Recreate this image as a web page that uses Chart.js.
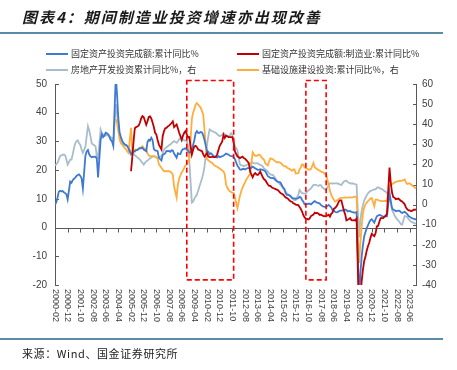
<!DOCTYPE html>
<html><head><meta charset="utf-8">
<script src="https://cdn.jsdelivr.net/npm/chart.js@4.4.0/dist/chart.umd.min.js"></script>
<style>
html,body{margin:0;padding:0;background:#fff;}
body{width:457px;height:370px;position:relative;overflow:hidden;font-family:"Noto Sans CJK SC",sans-serif;}
#title{position:absolute;left:22px;top:7px;font-size:15px;font-weight:bold;font-style:italic;letter-spacing:2px;color:#1a1a1a;white-space:nowrap;line-height:20px;}
.rule{position:absolute;left:0;width:443px;background:#5b8aa6;}
#rule1{top:32px;height:2px;}
#rule2{top:338px;height:2px;}
#source{position:absolute;left:22px;top:345px;font-size:11px;letter-spacing:0.6px;color:#222;line-height:16px;white-space:nowrap;}
.lg{position:absolute;font-size:9px;color:#333;white-space:nowrap;line-height:12px;}
.lg i{display:inline-block;width:22px;height:2px;vertical-align:middle;margin-right:3px;position:relative;top:-1px;}
#wrap{position:absolute;left:0;top:0;width:457px;height:370px;}
</style></head>
<body>
<div id="wrap"><canvas id="c"></canvas></div>
<div id="title">图表4：期间制造业投资增速亦出现改善</div>
<div class="rule" id="rule1"></div>
<div class="lg" style="left:46px;top:48px;"><i style="background:#3f7ad0"></i>固定资产投资完成额:累计同比%</div>
<div class="lg" style="left:237px;top:48px;"><i style="background:#c00000"></i>固定资产投资完成额:制造业:累计同比%</div>
<div class="lg" style="left:46px;top:64px;"><i style="background:#a8bdcb"></i>房地产开发投资累计同比%，右</div>
<div class="lg" style="left:237px;top:64px;"><i style="background:#ffae3b"></i>基础设施建设投资:累计同比%，右</div>
<div class="rule" id="rule2"></div>
<div id="source">来源：Wind、国金证券研究所</div>
<script>
// x tick labels (every 10 months)
const xTickLabels = ["2000-02","2000-12","2001-10","2002-08","2003-06","2004-04","2005-02","2005-12","2006-10","2007-08","2008-06","2009-04","2010-02","2010-12","2011-10","2012-08","2013-06","2014-04","2015-02","2015-12","2016-10","2017-08","2018-06","2019-04","2020-02","2020-12","2021-10","2022-08","2023-06"];

// Series: monthly values from the start month; January is null (Jan-Feb reported together)
const faiStart = "2000-02";
const faiTotal = [
 8.0,8.8,10.5,12.5,12.8,12.6,12.7,12.3,12.0,11.6,9.8,
 null,16.0,15.6,16.5,17.0,17.4,18.0,18.3,18.5,18.0,17.1,13.6,
 null,25.0,26.5,27.0,25.5,24.8,24.5,24.7,24.6,24.7,24.0,17.5,
 null,30.5,32.5,31.5,32.0,33.0,32.8,32.5,31.5,30.5,30.0,28.5,
 null,53.0,46.0,38.0,33.0,31.5,30.3,29.5,29.0,28.8,28.5,27.6,
 null,25.5,26.0,26.5,26.5,27.0,27.0,27.4,27.7,27.6,27.8,27.2,
 null,26.6,29.8,30.6,30.3,31.3,30.5,27.4,26.9,26.8,26.6,24.3,
 null,23.4,25.3,25.5,25.9,26.7,26.6,26.7,26.4,26.9,26.8,25.8,
 null,24.3,25.9,25.7,25.6,26.8,27.3,27.4,27.6,27.2,26.8,26.1,
 null,26.5,28.8,30.5,32.9,33.6,32.9,33.0,33.3,33.1,32.1,30.5,
 null,26.6,26.4,25.5,25.9,25.5,24.9,24.8,24.5,24.4,24.9,24.5,
 null,24.9,25.0,25.4,25.8,25.6,25.4,25.0,24.9,24.9,24.5,23.8,
 null,21.5,20.9,20.2,20.1,20.4,20.4,20.2,20.5,20.7,20.7,20.6,
 null,21.2,20.9,20.6,20.4,20.1,20.1,20.3,20.2,20.1,19.9,19.6,
 null,17.9,17.6,17.3,17.2,17.3,17.0,16.5,16.1,15.9,15.8,15.7,
 null,13.9,13.5,12.0,11.4,11.4,11.2,10.9,10.3,10.2,10.2,10.0,
 null,10.2,10.7,10.5,9.6,9.0,8.1,8.1,8.2,8.3,8.3,8.1,
 null,8.9,9.2,8.9,8.6,8.6,8.3,7.8,7.5,7.3,7.2,7.2,
 null,7.9,7.5,7.0,6.1,6.0,5.5,5.3,5.4,5.7,5.9,5.9,
 null,6.1,6.3,6.1,5.6,5.8,5.7,5.5,5.4,5.2,5.2,5.4,
 null,-24.5,-16.1,-10.3,-6.3,-3.1,-1.6,-0.3,0.8,1.8,2.6,2.9,
 null,1.7,2.9,3.9,4.2,4.4,4.3,4.0,3.8,3.8,3.9,3.9,
 null,12.2,9.3,6.8,6.2,6.1,5.7,5.8,5.9,5.8,5.3,5.1,
 null,5.5,5.1,4.7,4.0,3.8,3.4,3.2,3.1,2.9,2.9
];

const mfgStart = "2005-02";
const mfgInvest = [
 19.6,24.5,30.0,34.6,35.0,35.2,35.5,36.5,38.0,38.8,38.5,
 null,35.8,37.0,38.5,38.7,38.0,36.6,35.0,33.0,32.4,30.5,28.9,
 null,27.2,31.8,33.5,34.6,34.7,35.2,35.5,35.9,36.4,37.0,35.0,
 null,35.9,34.5,33.0,31.8,30.6,32.0,33.0,33.6,32.5,31.4,31.5,
 null,25.4,27.0,28.3,28.5,28.0,27.2,27.0,26.8,26.6,25.5,24.7,
 null,26.0,24.7,24.5,24.5,24.7,24.5,24.5,24.7,25.5,27.0,28.5,
 null,30.0,32.3,31.2,32.0,31.8,31.5,31.5,31.5,31.5,29.5,26.5,
 null,24.8,24.5,24.2,24.5,24.7,24.2,24.0,23.5,23.0,22.4,19.5,
 null,17.5,18.5,19.0,18.5,18.3,18.8,19.5,18.5,17.5,16.8,16.5,
 null,15.0,14.5,14.5,14.0,13.8,13.6,13.4,13.2,13.0,12.5,12.0,
 null,11.5,11.0,10.5,10.3,10.0,9.5,9.1,9.0,8.5,8.3,8.0,
 null,7.8,7.2,6.5,5.6,4.3,3.5,3.1,3.0,2.8,3.2,4.0,
 null,4.5,5.2,5.0,5.1,4.8,4.4,4.5,4.2,4.0,4.0,4.0,
 null,4.5,3.8,4.8,5.2,6.5,6.8,7.3,8.0,9.1,9.5,9.5,
 null,5.9,4.6,2.5,2.7,3.0,3.3,2.6,2.5,2.6,2.5,3.1,
 null,-31.5,-25.2,-18.8,-14.8,-11.7,-10.2,-8.1,-6.5,-5.3,-3.5,-2.2,
 null,-3.0,-2.0,0.4,0.6,2.0,3.3,3.3,3.3,3.8,4.1,4.8,
 null,20.9,15.6,12.2,10.6,10.4,9.9,10.0,10.1,9.7,9.3,9.1,
 null,8.1,7.0,6.4,6.0,6.0,5.7,5.9,6.2,6.2,6.3
];

const realEstateStart = "2000-02";
const realEstate = [
 19.5,20.0,20.8,22.5,24.1,24.5,24.7,24.9,24.5,22.4,19.9,
 null,22.4,22.4,25.0,28.2,30.5,31.6,32.0,30.5,29.7,27.4,25.7,
 null,28.9,34.0,39.0,37.0,34.0,30.5,29.9,29.5,29.0,24.1,23.3,
 null,37.4,35.7,34.5,34.5,34.3,34.5,34.5,34.3,33.5,33.2,29.9,
 null,50.0,45.0,39.0,34.5,32.4,31.0,29.9,29.5,29.2,29.0,28.1,
 null,26.5,25.7,25.2,24.5,24.1,23.5,23.0,22.4,21.5,20.8,19.9,
 null,21.6,21.8,22.5,23.0,23.3,23.8,24.1,24.0,23.5,23.3,23.5,
 null,24.1,25.5,27.4,28.0,28.5,29.0,29.5,29.9,30.5,31.2,31.6,
 null,30.7,31.5,32.5,33.2,31.6,32.4,32.0,31.8,31.6,29.0,21.6,
 null,1.0,1.5,3.0,4.0,5.0,7.0,9.0,11.0,13.0,15.5,19.0,
 null,29.9,34.0,37.4,37.0,36.5,36.3,36.0,35.7,35.0,34.5,34.0,
 null,34.7,35.5,35.0,34.5,34.0,34.0,34.5,35.5,34.5,32.0,29.0,
 null,27.0,23.0,20.0,19.5,19.5,19.0,19.5,19.5,20.0,20.5,20.5,
 null,21.0,20.5,20.5,20.5,20.6,20.0,19.8,19.5,19.0,18.0,17.5,
 null,16.4,15.5,15.0,14.8,14.8,14.0,13.0,12.0,11.5,10.5,9.8,
 null,8.5,7.3,6.5,5.6,5.0,4.5,4.0,3.5,2.5,2.3,2.3,
 null,4.8,7.3,6.5,5.6,5.6,5.5,5.6,6.5,7.0,7.5,8.1,
 null,9.8,9.8,9.8,9.5,9.3,9.8,9.6,8.5,8.1,7.5,7.3,
 null,9.8,10.6,10.6,10.5,10.6,10.6,10.6,10.5,10.3,9.9,9.8,
 null,11.5,11.8,11.9,11.2,10.9,10.6,10.5,10.5,10.3,10.2,9.9,
 null,-16.3,-7.7,-3.3,-0.3,1.9,3.4,4.6,5.6,6.3,6.8,7.0,
 null,7.6,7.6,8.4,8.6,8.2,8.0,7.7,7.2,6.8,6.4,5.7,
 null,3.7,0.7,-2.7,-4.0,-5.4,-6.4,-7.4,-8.0,-8.8,-9.8,-10.0,
 null,-5.7,-5.8,-6.2,-7.2,-7.9,-8.5,-8.8,-9.1,-9.3,-9.4
];

const infraStart = "2004-02";
const infraInvest = [
 42.4,40.7,36.5,32.4,30.5,29.9,29.0,28.2,27.5,26.5,25.7,
 null,38.2,25.7,26.5,27.4,27.4,27.4,27.8,28.2,28.5,29.0,28.2,
 null,27.4,25.5,24.5,24.1,24.1,24.1,24.1,23.8,23.3,23.0,20.0,
 null,18.3,17.5,16.6,16.6,16.8,16.6,16.6,16.4,15.8,14.8,9.0,
 null,3.5,10.0,13.0,14.5,16.0,17.0,18.3,19.5,20.0,21.0,22.0,
 null,42.5,45.7,47.5,49.8,50.5,49.7,49.0,48.2,46.5,44.9,37.0,
 null,22.5,22.0,21.6,21.0,20.8,20.0,19.5,19.1,18.8,18.3,18.0,
 null,17.0,16.6,15.0,10.0,8.5,7.3,6.6,6.2,6.0,5.8,3.5,
 null,-1.8,1.5,4.5,6.6,8.5,9.8,11.0,12.5,13.3,14.5,15.0,
 null,26.0,25.0,24.3,24.3,24.5,24.9,24.5,23.5,22.8,22.3,20.5,
 null,19.5,21.5,23.0,22.8,22.5,22.0,21.5,21.0,21.2,21.0,20.8,
 null,19.5,19.0,19.1,18.5,18.1,17.8,17.3,16.8,17.5,17.5,15.5,
 null,15.6,17.5,18.5,20.0,19.8,18.5,18.1,17.8,17.5,17.3,17.8,
 null,20.7,18.5,18.1,17.5,17.3,16.8,16.4,16.2,15.8,15.3,14.8,
 null,9.8,7.0,4.8,3.5,2.5,1.5,1.8,2.3,2.8,3.2,3.3,
 null,3.5,3.6,3.5,3.5,3.6,3.6,3.5,3.6,3.8,4.0,4.0,
 null,-29.0,-19.5,-11.0,-4.5,-1.5,0.0,1.0,1.7,2.3,3.0,3.3,
 null,-0.8,2.5,2.5,2.3,2.0,1.8,1.7,1.7,1.8,1.8,1.7,
 null,9.5,10.0,10.2,10.5,11.0,11.3,11.5,11.7,11.8,11.8,11.9,
 null,12.5,11.0,10.3,10.5,10.5,10.0,9.5,9.0,8.5,8.2
];

// highlighted periods (dashed boxes), in months; vertical extent in left-axis units
const highlightPeriods = [["2008-10","2011-11"],["2016-08","2017-12"]];
const highlightTop = 51.2, highlightBottom = -18.2;

const seriesNames = ["固定资产投资完成额:累计同比%","固定资产投资完成额:制造业:累计同比%","房地产开发投资累计同比%，右","基础设施建设投资:累计同比%，右"];

function mi(s){ return (parseInt(s.slice(0,4),10)-2000)*12 + parseInt(s.slice(5,7),10) - 2; }
function build(start, vals){ const m0 = mi(start); return vals.map((v,i)=>({x:m0+i, y:v})); }

const axisColor = '#595959';
const decor = {
  id:'decor',
  beforeDatasetsDraw(chart){
    const {ctx, chartArea:ca, scales} = chart;
    const x = scales.x, yL = scales.yL, yR = scales.yR;
    ctx.save();
    ctx.strokeStyle = axisColor; ctx.lineWidth = 1;
    ctx.beginPath();
    ctx.moveTo(Math.round(ca.left)+0.5, ca.top); ctx.lineTo(Math.round(ca.left)+0.5, ca.bottom);
    ctx.moveTo(Math.round(ca.right)-0.5, ca.top); ctx.lineTo(Math.round(ca.right)-0.5, ca.bottom);
    yL.ticks.forEach(t=>{ const y=Math.round(yL.getPixelForValue(t.value))+0.5; ctx.moveTo(ca.left, y); ctx.lineTo(ca.left+4, y); });
    yR.ticks.forEach(t=>{ const y=Math.round(yR.getPixelForValue(t.value))+0.5; ctx.moveTo(ca.right-4, y); ctx.lineTo(ca.right, y); });
    const y0 = Math.round(yL.getPixelForValue(0))+0.5;
    ctx.moveTo(ca.left, y0); ctx.lineTo(ca.right, y0);
    xTickLabels.forEach(l=>{ const px=Math.round(x.getPixelForValue(mi(l)))+0.5; ctx.moveTo(px, y0); ctx.lineTo(px, y0+4); });
    ctx.stroke();
    ctx.restore();
  },
  afterDatasetsDraw(chart){
    const {ctx, chartArea:ca, scales} = chart;
    const x = scales.x, yL = scales.yL;
    ctx.save();
    ctx.strokeStyle = '#ff0000'; ctx.lineWidth = 1.6; ctx.setLineDash([5,3]);
    highlightPeriods.forEach(p=>{
      const x1 = x.getPixelForValue(mi(p[0])), x2 = x.getPixelForValue(mi(p[1]));
      const y1 = yL.getPixelForValue(highlightTop), y2 = yL.getPixelForValue(highlightBottom);
      ctx.strokeRect(x1, y1, x2-x1, y2-y1);
    });
    ctx.restore();
    ctx.save();
    ctx.fillStyle = '#404040';
    ctx.font = '9px "Liberation Sans", Arial, sans-serif';
    ctx.textAlign = 'left'; ctx.textBaseline = 'middle';
    xTickLabels.forEach(l=>{
      const px = x.getPixelForValue(mi(l));
      ctx.save(); ctx.translate(px, ca.bottom+4); ctx.rotate(Math.PI/2); ctx.fillText(l, 0, 0); ctx.restore();
    });
    ctx.restore();
  }
};

const common = {pointRadius:0, borderWidth:1.8, fill:false, tension:0, spanGaps:true};
new Chart(document.getElementById('c'), {
  type:'line',
  data:{datasets:[
    Object.assign({label:seriesNames[0], data:build(faiStart, faiTotal), borderColor:'#3f7ad0', yAxisID:'yL', order:2}, common),
    Object.assign({label:seriesNames[1], data:build(mfgStart, mfgInvest), borderColor:'#c00000', yAxisID:'yL', order:1}, common),
    Object.assign({label:seriesNames[2], data:build(realEstateStart, realEstate), borderColor:'#a8bdcb', yAxisID:'yR', order:4}, common),
    Object.assign({label:seriesNames[3], data:build(infraStart, infraInvest), borderColor:'#ffae3b', yAxisID:'yR', order:3}, common)
  ]},
  options:{
    responsive:true, maintainAspectRatio:false, animation:false,
    layout:{padding:{top:84, bottom:85, left:0, right:0}},
    plugins:{legend:{display:false}, tooltip:{enabled:false}},
    scales:{
      x:{type:'linear', min:0, max:285.7, grid:{display:false, drawTicks:false}, border:{display:false}, ticks:{display:false},
         afterFit(s){ s.height = 0; }},
      yL:{position:'left', min:-20, max:50, grid:{display:false, drawTicks:false}, border:{display:false},
         ticks:{stepSize:10, padding:8, color:'#404040', font:{family:'"Liberation Sans", Arial', size:10}},
         afterFit(s){ s.width = 55; }},
      yR:{position:'right', min:-40, max:60, grid:{display:false, drawTicks:false}, border:{display:false},
         ticks:{stepSize:10, padding:5, color:'#404040', font:{family:'"Liberation Sans", Arial', size:10}},
         afterFit(s){ s.width = 40; }}
    }
  },
  plugins:[decor]
});
</script>
</body></html>
